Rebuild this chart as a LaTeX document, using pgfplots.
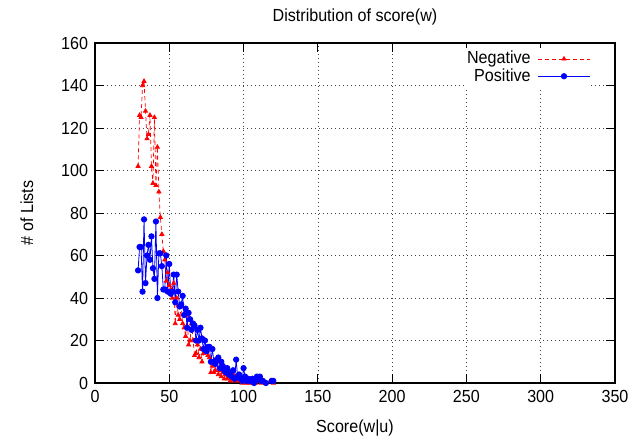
\documentclass[border=0pt]{standalone}
\usepackage{fontspec}
\setmainfont{Liberation Sans}[FakeStretch=0.92]
\usepackage{pgfplots}
\pgfplotsset{compat=1.18}
\usepackage{pgfplotstable}

\pgfplotstableread{
x y
29 102
30 126
31 125
32 140
33 142
34 128
35 115
36 117
37 126
38 102
39 94
40 125
41 93
42 111
43 90
44 78
45 70
46 62
47 58
48 48
49 52
50 46
51 44
52 40
53 47
54 28
55 40
56 32
57 30
58 36
59 28
60 26
61 22
62 32
63 18
64 20
65 28
66 20
67 13
68 14
69 18
70 12
71 16
72 10
73 14
74 15
75 16
76 13
77 12
78 5
79 8
80 5
81 6
82 10
83 4
84 6
85 3
86 5
87 2
88 4
89 2
90 3
91 1
92 2
93 4
94 1
95 3
96 1
97 2
98 1
99 0
100 2
101 1
102 0
103 1
104 0
105 2
106 0
107 1
108 0
110 1
112 0
115 0
118 1
120 0
}\negdata

\pgfplotstableread{
x y
29 53
30 64
31 64
32 43
33 77
34 47
35 60
36 65
37 58
38 69
39 54
40 49
41 76
42 40
43 61
44 61
45 55
46 44
47 44
48 60
49 43
50 56
51 42
52 43
53 51
54 38
55 51
56 43
57 36
58 37
59 41
60 32
61 35
62 26
63 33
64 30
65 25
66 28
67 27
68 20
69 25
70 20
71 26
72 21
73 16
74 20
75 15
76 17
77 17
78 10
79 16
80 10
81 9
82 11
83 12
84 7
85 10
86 8
87 6
88 5
89 7
90 4
91 5
92 3
93 6
94 2
95 11
96 3
97 4
98 2
99 1
100 7
101 3
102 1
103 2
104 1
105 1
106 2
107 0
108 1
109 3
110 2
111 3
112 1
113 1
115 0
119 1
120 1
}\posdata

\begin{document}
\fontsize{17.5bp}{20bp}\selectfont
\begin{tikzpicture}
\useasboundingbox (-95bp,-58bp) rectangle (548bp,383bp);
\begin{axis}[
  at={(0,0)}, anchor=south west,
  scale only axis,
  width=520bp, height=340bp,
  xmin=0, xmax=350, ymin=0, ymax=160,
  xtick={0,50,...,350}, ytick={0,20,...,160},
  tick align=inside,
  major tick length=9bp,
  tick style={black, line width=0.8bp},
  axis line style={black, line width=1.2bp},
  grid=major,
  major grid style={black!75, line width=0.6bp, dash pattern=on 1bp off 3bp},
  /pgf/number format/assume math mode=true,
  tick label style={font=\fontsize{17.5bp}{20bp}\selectfont},
  xticklabel style={yshift=-1bp},
  yticklabel style={xshift=-1bp},
  label style={font=\fontsize{17.5bp}{20bp}\selectfont},
  title style={font=\fontsize{17.5bp}{20bp}\selectfont, yshift=6bp},
  title={Distribution of score(w)},
  xlabel={Score(w|u)},
  ylabel={\# of Lists},
  xlabel style={yshift=-6bp},
  ylabel style={yshift=16bp},
  legend style={draw=none, fill=white, at={(0.955,0.985)}, anchor=north east,
    font=\fontsize{17.5bp}{17bp}\selectfont, row sep=-2bp, column sep=5bp, inner sep=1bp},
  legend plot pos=right,
  legend cell align=right,
  legend image code/.code={\draw[mark repeat=2,mark phase=2,#1] plot coordinates {(0bp,0bp)(26bp,0bp)(52bp,0bp)};},
]
\addplot[red, line width=0.7bp, dash pattern=on 4bp off 3bp, mark=triangle*, mark size=2.4bp, mark options={solid}] table[x=x,y=y] {\negdata};
\addlegendentry{Negative}
\addplot[blue, line width=0.8bp, mark=*, mark size=2.7bp] table[x=x,y=y] {\posdata};
\addlegendentry{Positive}
\end{axis}
\end{tikzpicture}
\end{document}
